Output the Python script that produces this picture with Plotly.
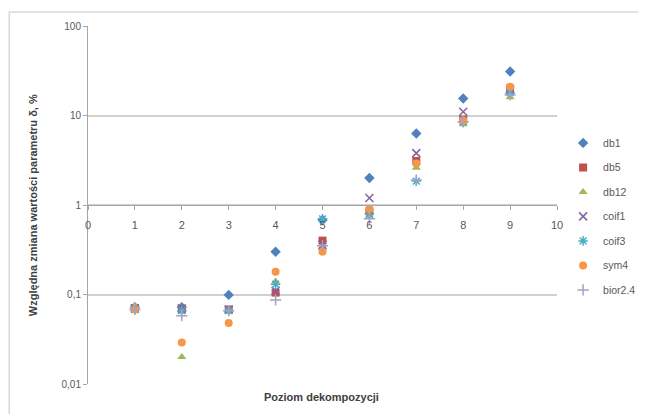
import plotly.graph_objects as go

levels = [1, 2, 3, 4, 5, 6, 7, 8, 9]
db1 = [0.072, 0.072, 0.099, 0.30, 0.68, 2.0, 6.3, 15.5, 31.0]
db5 = [0.070, 0.068, 0.068, 0.105, 0.40, 0.85, 3.1, 9.0, 20.0]
db12 = [0.075, 0.020, 0.068, 0.14, 0.33, 0.75, 2.6, 8.0, 16.0]
coif1 = [0.070, 0.070, 0.068, 0.11, 0.36, 1.2, 3.8, 11.0, 19.0]
coif3 = [0.068, 0.066, 0.066, 0.13, 0.70, 0.80, 1.85, 8.5, 18.0]
sym4 = [0.068, 0.029, 0.048, 0.18, 0.30, 0.90, 2.9, 8.8, 21.0]
bior24 = [0.068, 0.058, 0.066, 0.087, 0.35, 0.70, 1.9, 8.5, 17.0]

series = [
    ("db1", db1, "#4F81BD", "diamond"),
    ("db5", db5, "#C0504D", "square"),
    ("db12", db12, "#9BBB59", "triangle-up"),
    ("coif1", coif1, "#8064A2", "x-thin-open"),
    ("coif3", coif3, "#4BACC6", "asterisk-open"),
    ("sym4", sym4, "#F79646", "circle"),
    ("bior2.4", bior24, "#A5A0C8", "cross-thin-open"),
]

yticks = [0.01, 0.1, 1, 10, 100]
yticktext = ["0,01", "0,1", "1", "10", "100"]
xticks = list(range(0, 11))

fig = go.Figure()
for name, vals, color, sym in series:
    open_m = sym.endswith("open")
    fig.add_trace(go.Scatter(
        x=levels, y=vals, mode="markers", name=name, legendgroup=name,
        marker=dict(symbol=sym, size=8, color=color,
                    line=dict(color=color, width=1.5 if open_m else 0)),
    ))

grid = "#D0D0D0"
fig.update_layout(
    width=638, height=406,
    margin=dict(l=80, r=89, t=18, b=30, autoexpand=False),
    paper_bgcolor="white", plot_bgcolor="white",
    font=dict(family="Liberation Sans, Arial, sans-serif", size=10, color="#595959"),
    showlegend=True,
    legend=dict(x=1.013, y=0.714, xanchor="left", yanchor="top",
                font=dict(size=10.5, color="#595959"), tracegroupgap=5.5,
                itemwidth=30, bgcolor="rgba(0,0,0,0)"),
    xaxis=dict(range=[0, 10], tickvals=xticks, anchor="free", position=0.5,
               showline=True, linecolor="#A6A6A6", linewidth=1,
               ticks="outside", ticklen=4, tickcolor="#A6A6A6",
               ticklabelstandoff=6,
               showgrid=False, zeroline=False, tickfont=dict(size=11, color="#595959")),
    yaxis=dict(type="log", range=[-2, 2], tickvals=yticks, ticktext=yticktext,
               showline=True, linecolor="#A6A6A6", linewidth=1,
               ticks="outside", ticklen=4, tickcolor="#A6A6A6",
               showgrid=True, gridcolor=grid, gridwidth=2, zeroline=False,
               tickfont=dict(size=10, color="#595959")),
    annotations=[
        dict(text="<b>Względna zmiana wartości parametru δ, %</b>", textangle=-90,
             xref="paper", yref="paper", x=-0.117, y=0.5, xanchor="center",
             showarrow=False, font=dict(size=11, color="#404040")),
        dict(text="<b>Poziom dekompozycji</b>", xref="paper", yref="paper",
             x=0.497, y=-0.036, showarrow=False, yanchor="middle",
             font=dict(size=11, color="#404040")),
    ],
    shapes=[
        dict(type="rect", xref="paper", yref="paper", x0=-0.168, x1=1.25,
             y0=-0.2, y1=1.039, line=dict(color="#D9D9D9", width=1.5),
             fillcolor="rgba(0,0,0,0)", layer="below"),
    ],
)

fig.write_html("out.html")
